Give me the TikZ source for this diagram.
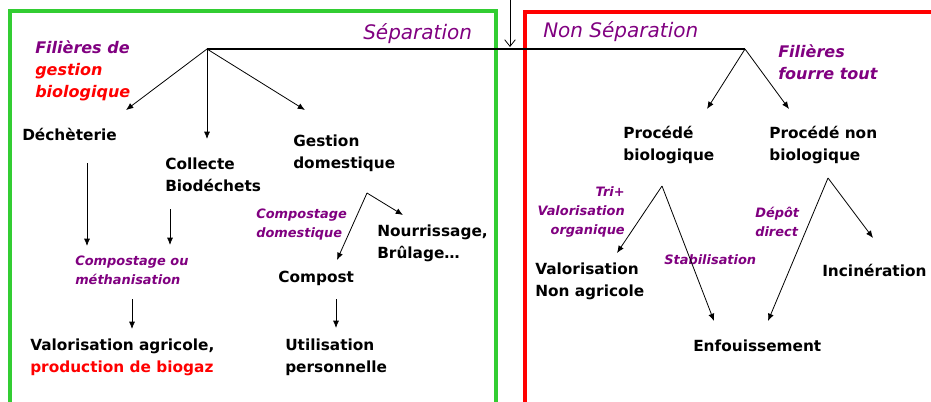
\documentclass[tikz,border=0pt]{standalone}
\usepackage{fontspec}
\setmainfont{DejaVu Sans}
\usetikzlibrary{arrows.meta}
\definecolor{vert}{RGB}{50,205,50}
\definecolor{violet}{RGB}{128,0,128}
\tikzset{
  txt/.style={font=\bfseries\fontsize{11.5}{16.5}\selectfont, align=left, inner sep=0pt, anchor=west},
  lab/.style={violet, font=\bfseries\itshape\fontsize{9.7}{14.2}\selectfont, align=left, inner sep=0pt, anchor=west},
  head/.style={violet, font=\bfseries\itshape\fontsize{12}{16.5}\selectfont, align=left, inner sep=0pt, anchor=west},
  zone/.style={violet, font=\itshape\fontsize{15}{18}\selectfont, inner sep=0pt, anchor=west},
  fl/.style={semithick, -{Latex[length=5.5pt,width=4.5pt]}}
}

\begin{document}
\begin{tikzpicture}[x=0.75pt,y=-0.75pt]
	\useasboundingbox (0,0) rectangle (931,401);
	% cadres
	\draw[vert, line width=2.4pt] (10,402) -- (10,11) -- (496,11) -- (496,402);
	\draw[red, line width=2.4pt] (525,402) -- (525,12) -- (932,12);
	\coordinate (entree) at (510,0);
	\coordinate (barre) at (510,47);
	\coordinate (forkL) at (207,49);
	\coordinate (forkR) at (745,49);
	\draw[semithick, -{Straight Barb[length=5pt,width=8pt]}] (entree) -- (barre);
	\draw[line width=2.2pt] (forkL) -- (forkR);

	% separation
	\node[zone] (sep) at (363,34) {Séparation};
	\node[head] (filA) at (35,71) {Filières de\\\textcolor{red}{gestion}\\\textcolor{red}{biologique}};
	\node[txt] (dech) at (22,134) {Déchèterie};
	\node[txt] (coll) at (165,175) {Collecte\\Biodéchets};
	\node[txt] (gest) at (293,153) {Gestion\\domestique};
	\node[lab] (compmeth) at (75,270) {Compostage ou\\méthanisation};
	\node[txt] (valagr) at (30,357) {Valorisation agricole,\\\textcolor{red}{production de biogaz}};
	\node[lab] (compdom) at (256,225) {Compostage\\domestique};
	\node[txt] (nourr) at (377,243) {Nourrissage,\\Brûlage…};
	\node[txt] (compost) at (278,278) {Compost};
	\node[txt] (util) at (285,357) {Utilisation\\personnelle};

	\coordinate (aDech) at (126,110);
	\coordinate (aColl) at (207,139);
	\coordinate (aGest) at (305,110);
	\draw[fl] (forkL) -- (aDech);
	\draw[fl] (forkL) -- (aColl);
	\draw[fl] (forkL) -- (aGest);
	\coordinate (d1) at (87,163);  \coordinate (d2) at (87,246);
	\coordinate (c1) at (170,209); \coordinate (c2) at (170,245);
	\coordinate (m1) at (132,299); \coordinate (m2) at (132,329);
	\draw[fl] (d1) -- (d2);
	\draw[fl] (c1) -- (c2);
	\draw[fl] (m1) -- (m2);
	\coordinate (forkG) at (367,193);
	\coordinate (aNourr) at (403,215);
	\coordinate (aComp) at (337,260);
	\draw[fl] (forkG) -- (aNourr);
	\draw[fl] (forkG) -- (aComp);
	\coordinate (p1) at (336,299); \coordinate (p2) at (336,328);
	\draw[fl] (p1) -- (p2);

	% non separation
	\node[zone] (nonsep) at (543,32) {Non Séparation};
	\node[head] (filB) at (778,62) {Filières\\fourre tout};
	\node[txt] (procbio) at (623,145) {Procédé\\biologique};
	\node[txt] (procnon) at (769,145) {Procédé non\\biologique};
	\node[lab, align=right, anchor=east] (tri) at (625,212) {Tri+\\Valorisation\\organique};
	\node[lab] (stab) at (664,260) {Stabilisation};
	\node[lab] (depot) at (755,222) {Dépôt\\direct};
	\node[txt] (valnon) at (535,281) {Valorisation\\Non agricole};
	\node[txt] (incin) at (822,270) {Incinération};
	\node[txt] (enf) at (693,346) {Enfouissement};

	\coordinate (aBio) at (707,109);
	\coordinate (aNon) at (789,109);
	\draw[fl] (forkR) -- (aBio);
	\draw[fl] (forkR) -- (aNon);
	\coordinate (forkB) at (662,186);
	\coordinate (forkN) at (828,178);
	\coordinate (aVal) at (617,253);
	\coordinate (aEnf1) at (714,321);
	\coordinate (aEnf2) at (768,321);
	\coordinate (aInc) at (873,238);
	\draw[fl] (forkB) -- (aVal);
	\draw[fl] (forkB) -- (aEnf1);
	\draw[fl] (forkN) -- (aEnf2);
	\draw[fl] (forkN) -- (aInc);
\end{tikzpicture}
\end{document}
